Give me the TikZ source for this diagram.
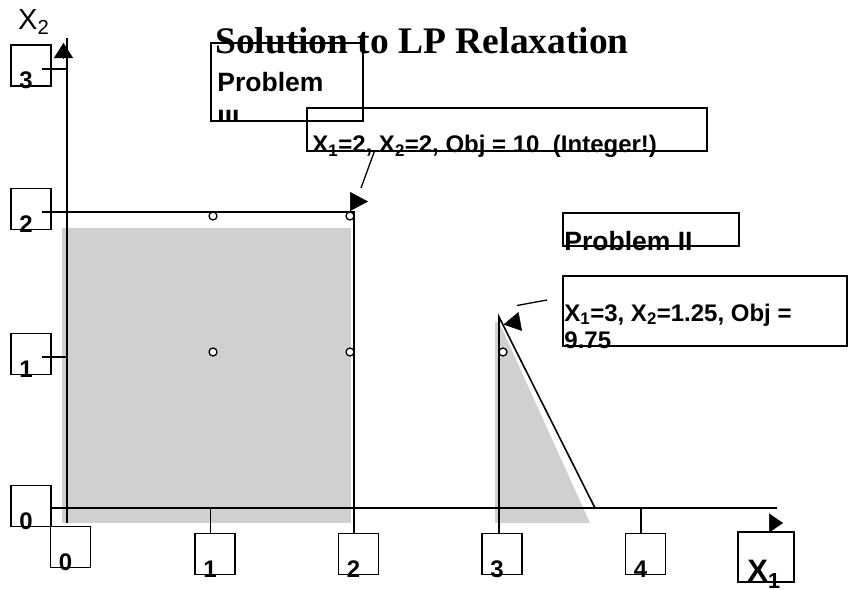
\documentclass[tikz,border=0pt]{standalone}
\usepackage{fontspec}
\setsansfont{Liberation Sans}
\newfontfamily\titlefont{Liberation Serif}
\usetikzlibrary{arrows.meta}
\definecolor{regiongray}{RGB}{208,208,208}
\tikzset{
  % plain lines of the plot
  plotline/.style={line width=1.6pt},
  % box holding an axis value
  tickbox/.style={rectangle, draw, line width=1.5pt, inner sep=0pt, minimum width=40pt, minimum height=41pt},
  % axis value, sitting on the lower edge of its box
  ticklbl/.style={anchor=base west, inner sep=0pt, font=\fontsize{24}{24}\selectfont\sffamily\bfseries},
  % text box of a subproblem
  probbox/.style={rectangle, draw, line width=1.5pt, inner sep=0pt},
  problbl/.style={anchor=base west, inner sep=0pt, font=\fontsize{26.5}{26.5}\selectfont\sffamily\bfseries},
  infolbl/.style={anchor=base west, inner sep=0pt, font=\fontsize{24}{24}\selectfont\sffamily\bfseries},
  % lattice point
  lpoint/.style={circle, draw, line width=1.3pt, fill=white, inner sep=0pt, minimum size=8pt},
  % loose arrow head
  headtip/.style={-{Triangle[length=#1, width=19pt]}, line width=0.5pt},
  headtip/.default={17pt},
  % callout line
  callline/.style={line width=1.3pt},
}

\begin{document}
\begin{tikzpicture}[x=1pt, y=-1pt]
  \useasboundingbox (0,0) rectangle (848,589);
  % feasible regions
  \fill[regiongray] (62,228) rectangle (351,523);
  \fill[regiongray] (495,322) -- (499,322) -- (590,523) -- (495,523) -- cycle;

  \node[anchor=base west, inner sep=0pt, font=\fontsize{37.5}{37.5}\selectfont\titlefont\bfseries] (title) at (215,53) {Solution to LP Relaxation};

  % axes
  \draw[plotline] (67,38) -- (67,523);
  \draw[plotline] (50,508) -- (777,508);
  \coordinate (yh) at (63.5,58);
  \coordinate (yhtip) at (63.5,43);
  \draw[headtip=15pt] (yh) -- (yhtip);
  \coordinate (xh) at (769,523);
  \coordinate (xhtip) at (783,523);
  \draw[headtip=14pt] (xh) -- (xhtip);
  \node[anchor=base west, inner sep=0pt, font=\fontsize{29}{29}\selectfont\sffamily] (ylab) at (18,29) {X\textsubscript{2}};

  % ticks
  \draw[plotline] (42,69) -- (67,69);
  \draw[plotline] (42,357) -- (67,357);
  \draw[plotline] (210.5,508) -- (210.5,534);
  \draw[plotline] (641,508) -- (641,534);
  % bounds of Problem III and Problem II
  \draw[plotline] (42,212) -- (354,212) -- (354,534);
  \draw[plotline] (499,534) -- (499,317) -- (595,508);

  \foreach \v/\cy in {3/65.5, 2/209, 1/354, 0/506} {
    \node[tickbox] (ty\v) at (31,\cy) {};
    \node[ticklbl] at ([xshift=9pt,yshift=-2pt]ty\v.south west) {\v};
  }
  \node[tickbox] (tx0) at (70.5,547) {};
  \node[ticklbl] at ([xshift=9pt,yshift=-2pt]tx0.south west) {0};
  \foreach \v/\cx in {1/215, 2/358.5, 3/502, 4/645.5} {
    \node[tickbox] (tx\v) at (\cx,554) {};
    \node[ticklbl] at ([xshift=9pt,yshift=-2pt]tx\v.south west) {\v};
  }
  \node[tickbox, minimum width=56pt, minimum height=50pt] (xbox) at (766,557) {};
  \node[anchor=base west, inner sep=0pt, font=\fontsize{31}{31}\selectfont\sffamily\bfseries] (xlab) at ([xshift=10pt,yshift=1pt]xbox.south west) {X\textsubscript{1}};

  % integer points
  \node[lpoint] (p12) at (213,216) {};
  \node[lpoint] (p22) at (350,216) {};
  \node[lpoint] (p11) at (213,352) {};
  \node[lpoint] (p21) at (350,352) {};
  \node[lpoint] (p31) at (503,352) {};

  % Problem III
  \node[probbox, minimum width=152pt, minimum height=78pt] (boxIII) at (287,82) {};
  \node[problbl] at ([xshift=7pt,yshift=-49pt]boxIII.north west) {Problem};
  \begin{scope}
    \clip (boxIII.south west) rectangle (boxIII.north east);
    \node[problbl] at ([xshift=7pt,yshift=-86pt]boxIII.north west) {III};
  \end{scope}
  \node[probbox, minimum width=400pt, minimum height=43pt] (info3) at (507,129.5) {};
  \node[infolbl] at ([xshift=6pt,yshift=-1pt]info3.south west) {X\textsubscript{1}=2, X\textsubscript{2}=2, Obj = 10\ \ (Integer!)};
  \coordinate (k3) at (361,188);
  \draw[callline] ([xshift=68pt]info3.south west) -- (k3);
  \coordinate (h3) at (349.5,201.5);
  \coordinate (h3tip) at (368,201.5);
  \draw[headtip=18pt] (h3) -- (h3tip);

  % Problem II
  \node[probbox, minimum width=176pt, minimum height=33pt] (boxII) at (651,229.5) {};
  \node[problbl] at ([xshift=2pt,yshift=-4pt]boxII.south west) {Problem II};
  \node[probbox, minimum width=284pt, minimum height=70pt] (info2) at (705,311) {};
  \node[infolbl] at ([xshift=2pt,yshift=-46pt]info2.north west) {X\textsubscript{1}=3, X\textsubscript{2}=1.25, Obj =};
  \node[infolbl] at ([xshift=2pt,yshift=-2pt]info2.south west) {9.75};
  \coordinate (k2a) at (547,300);
  \coordinate (k2b) at (517,305.5);
  \draw[callline] (k2a) -- (k2b);
  \coordinate (h2) at (520,321.5);
  \coordinate (h2tip) at (503.5,324.5);
  \draw[headtip] (h2) -- (h2tip);
\end{tikzpicture}
\end{document}
